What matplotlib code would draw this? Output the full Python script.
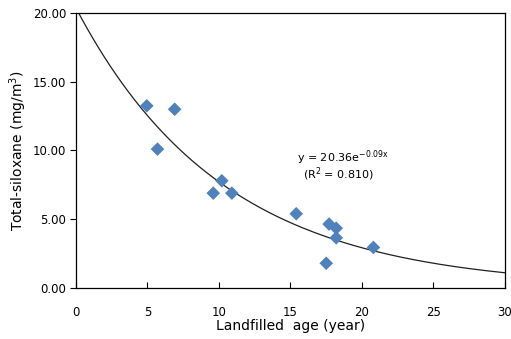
import numpy as np
import matplotlib as mpl

mpl.use('Agg')
import matplotlib.pyplot as plt

plt.rcParams['mathtext.default'] = 'regular'

# measured samples
age = [4.95, 6.9, 5.7, 9.6, 10.2, 10.9, 15.4, 17.7, 18.2, 18.2, 17.5, 20.8]
siloxane = [13.25, 13.0, 10.1, 6.9, 7.8, 6.9, 5.4, 4.65, 4.35, 3.65, 1.8, 2.95]

# exponential fit y = a * exp(-b x)
fit_a = 20.36
fit_b = 0.097

xticks = [0, 5, 10, 15, 20, 25, 30]
yticks = [0, 5, 10, 15, 20]

fig = plt.figure(figsize=(5.11, 3.39), dpi=100)
ax = fig.add_axes([0.1487, 0.1504, 0.8395, 0.8113])

xx = np.linspace(0, 30, 300)
ax.plot(xx, fit_a * np.exp(-fit_b * xx), color='#202020', linewidth=0.9, zorder=2)
ax.scatter(age, siloxane, marker='D', s=48, color='#4F81BD', edgecolors='none', zorder=3)

ax.set_xlim(0, 30)
ax.set_ylim(0, 20)
ax.set_xticks(xticks)
ax.set_yticks(yticks)
ax.set_yticklabels(['%.2f' % v for v in yticks])
ax.tick_params(axis='x', direction='in', length=4, pad=13, labelsize=8.5)
ax.tick_params(axis='y', direction='out', length=4, pad=3, labelsize=8.5)
for s in ax.spines.values():
    s.set_linewidth(0.9)

ax.set_xlabel('Landfilled  age (year)', fontsize=10, labelpad=0)
ax.set_ylabel('Total-siloxane (mg/m$^3$)', fontsize=10, labelpad=3)

ax.text(15.45, 9.2, 'y = 20.36e$^{-0.09x}$', fontsize=8)
ax.text(15.85, 8.0, '(R$^2$ = 0.810)', fontsize=8)

fig.savefig('out.png', dpi=100)
